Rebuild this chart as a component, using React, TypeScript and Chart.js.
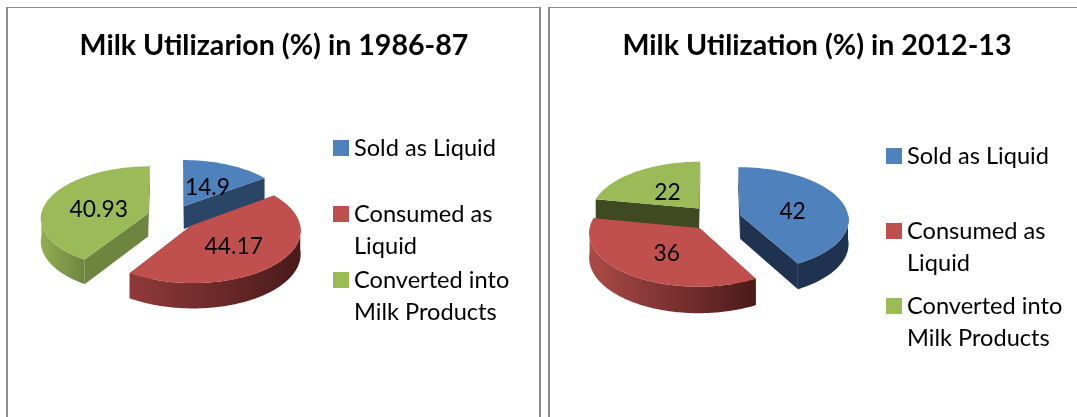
import React, { useEffect, useRef } from "react";
import { Chart, registerables } from "chart.js";

Chart.register(...registerables);

const categories = [["Sold as Liquid", ""], ["Consumed as", "Liquid"], ["Converted into", "Milk Products"]];
const colors = ["#4f81bd", "#c0504d", "#9bbb59"];
const title1 = "Milk Utilizarion (%) in 1986-87";
const title2 = "Milk Utilization (%) in 2012-13";
const values1 = [14.9, 44.17, 40.93];
const values2 = [42, 36, 22];

const FONT = "Lato";
const LEGEND_SIZE = 23.6;
const LEGEND_LINE = 32;
const BOX = 16;
const BOX_W = 2.4;

const panel1 = {
  title: title1,
  values: values1,
  canvasX: 0,
  canvasW: 545,
  center: { x: 172.5, y: 217 },
  radius: 107.4,
  explode: 25.5,
  depth: 23,
  titleCx: 274,
  legend: { x: 333, y: 148, step: 66 },
  walls: ["#2a4565", "#7a2f2e", "#6e8540"],
  arcs: [["#2a4565", "#2a4565"], ["#8f3a39", "#4a1a1a"], ["#93ad52", "#6e8540"]],
};
const panel2 = {
  title: title2,
  values: values2,
  canvasX: 545,
  canvasW: 532,
  center: { x: 715.2 - 545, y: 218 },
  radius: 108.5,
  explode: 25.8,
  depth: 24,
  titleCx: 817 - 545,
  legend: { x: 886 - 545, y: 156, step: 75 },
  walls: ["#1f3350", "#8f3a39", "#3f4a22"],
  arcs: [["#1f3350", "#1f3350"], ["#ab4a48", "#4b1a19"], ["#3f4a22", "#3f4a22"]],
};

const TILT = 0.48;
const PERSP = 0.08;

function makePlugin(p: typeof panel1) {
  const proj = (x: number, y: number, z = 0) => {
    const w = 1 / (1 - (PERSP * y) / p.radius);
    return [p.center.x + x * w, p.center.y + y * TILT * w + z * w];
  };
  return {
    id: "pie3d",
    beforeDraw(chart: any) {
      const lg = chart.legend;
      const pad = lg.options.labels.padding;
      lg.left = p.legend.x - pad - BOX_W / 2 + BOX / 2;
      lg.right = chart.width + 500;
      lg.top = p.legend.y - pad - LEGEND_SIZE / 2;
      lg.bottom = 2000;
      // the legend is moved by hand, so its own box must not clip the swatches
      lg.draw = () => lg._draw();
      const t = chart.titleBlock;
      t.left = p.titleCx - 250;
      t.right = p.titleCx + 250;
      t.top = 46 - t.options.font.size * 0.6;
    },
    beforeDatasetsDraw(chart: any) {
      const ctx = chart.ctx as CanvasRenderingContext2D;
      const meta = chart.getDatasetMeta(0);
      const items = meta.data.map((el: any, i: number) => {
        const { startAngle, endAngle, outerRadius } = el.getProps(["startAngle", "endAngle", "outerRadius"], true);
        const mid = (startAngle + endAngle) / 2;
        const d = el.options.offset;
        return { i, el, startAngle, endAngle, R: outerRadius, ox: Math.cos(mid) * d, oy: Math.sin(mid) * d, mid };
      });
      const order = [...items].sort((a: any, b: any) => a.oy - b.oy);
      for (const s of order) {
        const pts: number[][] = [];
        const n = Math.ceil(((s.endAngle - s.startAngle) * 180) / Math.PI);
        for (let k = 0; k <= n; k++) pts.push([s.startAngle + ((s.endAngle - s.startAngle) * k) / n]);
        const at = (a: number, z = 0) => proj(s.ox + s.R * Math.cos(a), s.oy + s.R * Math.sin(a), z);
        const apex = (z = 0) => proj(s.ox, s.oy, z);
        const poly = (list: number[][], fill: any) => {
          ctx.beginPath();
          list.forEach((q, ix) => (ix ? ctx.lineTo(q[0], q[1]) : ctx.moveTo(q[0], q[1])));
          ctx.closePath();
          ctx.fillStyle = fill;
          ctx.fill();
        };
        // radial walls
        [s.startAngle, s.endAngle].forEach((a: number) => {
          poly([apex(), at(a), at(a, p.depth), apex(p.depth)], p.walls[s.i]);
        });
        // outer wall (front-facing part only)
        const front = pts.map((q) => q[0]).filter((a) => Math.sin(a) > -0.01);
        if (front.length > 1) {
          const top = front.map((a) => at(a));
          const bottom = front.map((a) => at(a, p.depth)).reverse();
          const xs = top.map((q) => q[0]);
          const g = ctx.createLinearGradient(Math.min(...xs), 0, Math.max(...xs), 0);
          g.addColorStop(0, p.arcs[s.i][0]);
          g.addColorStop(1, p.arcs[s.i][1]);
          poly([...top, ...bottom], g);
        }
        // top face
        poly([apex(), ...pts.map((q) => at(q[0]))], colors[s.i]);
      }
      // value labels
      ctx.save();
      ctx.fillStyle = "#000";
      ctx.font = `22.8px ${FONT}`;
      ctx.textAlign = "center";
      ctx.textBaseline = "middle";
      for (const s of items) {
        const f = s.R * 0.5;
        const q = proj(s.ox + f * Math.cos(s.mid), s.oy + f * Math.sin(s.mid));
        ctx.fillText(String(p.values[s.i]), q[0] + 1, q[1] + 3);
      }
      ctx.restore();
      return false;
    },
  };
}

function Pie({ p }: { p: typeof panel1 }) {
  const ref = useRef<HTMLCanvasElement>(null);
  useEffect(() => {
    const chart = new Chart(ref.current!, {
      type: "pie",
      data: {
        labels: categories as any,
        datasets: [
          {
            data: p.values,
            backgroundColor: colors,
            borderWidth: 0,
            offset: p.explode,
          },
        ],
      },
      options: {
        responsive: false,
        animation: false,
        radius: p.radius,
        plugins: {
          title: {
            display: true,
            text: p.title,
            color: "#000",
            padding: 0,
            font: { family: FONT, size: 28.6, weight: "bold" },
          },
          tooltip: { enabled: false },
          legend: {
            display: true,
            position: "right",
            align: "start",
            labels: {
              color: "#000",
              usePointStyle: true,
              pointStyle: "rect",
              boxWidth: BOX_W,
              boxHeight: BOX,
              padding: p.legend.step - 2 * LEGEND_LINE,
              font: { family: FONT, size: LEGEND_SIZE, lineHeight: `${LEGEND_LINE}px` },
            },
          },
        },
      } as any,
      plugins: [makePlugin(p)],
    });
    return () => chart.destroy();
  }, [p]);
  return (
    <canvas
      ref={ref}
      width={p.canvasW}
      height={417}
      style={{ position: "absolute", left: p.canvasX, top: 0, width: p.canvasW, height: 417 }}
    />
  );
}

const line = (l: number, t: number, w: number, h: number, c = "#8c8c8c") => (
  <div style={{ position: "absolute", left: l, top: t, width: w, height: h, background: c }} />
);

export default function App() {
  return (
    <div style={{ position: "fixed", left: 0, top: 0, width: 1077, height: 417, background: "#fff", overflow: "hidden" }}>
      <Pie p={panel1} />
      <Pie p={panel2} />
      {line(6, 7, 535, 1)}
      {line(6, 7, 2, 410)}
      {line(539, 7, 2, 410)}
      {line(548, 7, 529, 1)}
      {line(548, 7, 2, 410)}
    </div>
  );
}
